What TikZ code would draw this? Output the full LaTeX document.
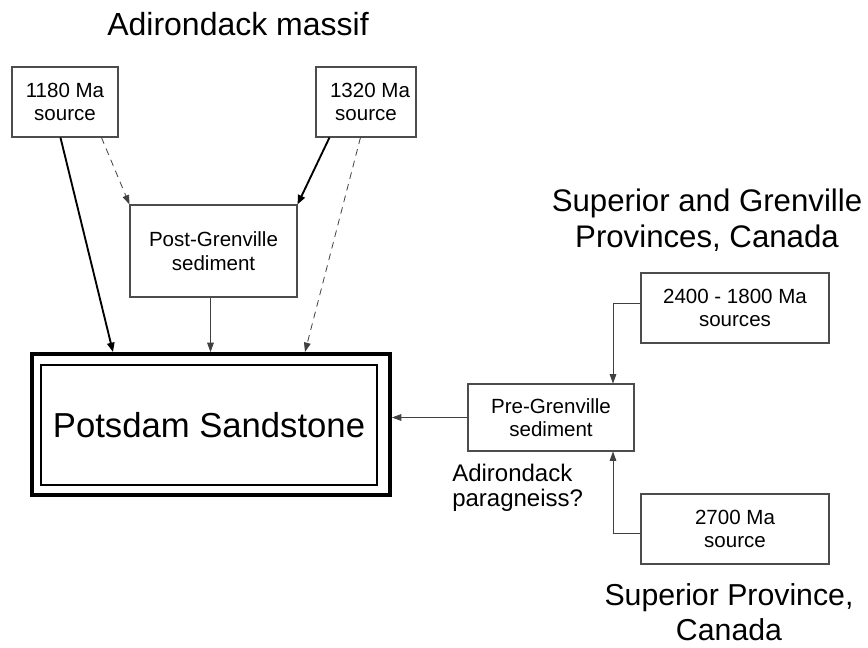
\documentclass[tikz,border=0pt]{standalone}
\usepackage{fontspec}
\setmainfont{Liberation Sans}
\usetikzlibrary{arrows.meta,calc}
\tikzset{
  srcbox/.style={draw=black!70, line width=0.8pt, inner sep=0pt, align=center,
    font=\fontsize{15.4}{17.5}\selectfont},
  bigtext/.style={align=center, inner sep=0pt, font=\fontsize{24}{27.8}\selectfont},
  thinarrow/.style={draw=black!75, line width=0.6pt, -{Triangle[length=7pt,width=5pt]}},
  thickarrow/.style={draw=black, line width=1.4pt, -{Triangle[length=7pt,width=5.5pt]}},
  dasharrow/.style={draw=black!75, line width=0.6pt, dash pattern=on 5pt off 4pt, -{Triangle[length=7pt,width=5pt]}}
}
\begin{document}
\begin{tikzpicture}[x=0.75pt,y=-0.75pt]
\useasboundingbox[fill=white] (0,0) rectangle (868,648);

\node[bigtext] (tadk) at (238,24) {Adirondack massif};
\node[bigtext, font=\fontsize{23.4}{27}\selectfont] (tsg) at (707,220) {Superior and Grenville\\Provinces, Canada};
\node[bigtext, font=\fontsize{22.7}{26}\selectfont] (tsp) at (729,612) {Superior Province,\\Canada};

\node[srcbox, minimum width=79.5pt, minimum height=52.5pt] (b1180) at (65,102) {1180 Ma\\source};
\node[srcbox, minimum width=75pt, minimum height=52.5pt] (b1320) at (366,102) {\hspace*{6pt}1320 Ma\\source};
\node[srcbox, minimum width=125.25pt, minimum height=69pt] (post) at (213.5,251) {Post-Grenville\\sediment};

\node[draw=black, line width=3pt, minimum width=268.5pt, minimum height=105.75pt] (pots) at (211,424.5) {};
\node[draw=black, line width=1.6pt, minimum width=252pt, minimum height=90pt, inner sep=0pt,
  font=\fontsize{26}{30}\selectfont] (potsin) at (209,425) {Potsdam Sandstone};

\node[srcbox, minimum width=124.5pt, minimum height=50.25pt] (pre) at (551,417.5) {Pre-Grenville\\sediment};
\node[srcbox, minimum width=141pt, minimum height=52.5pt] (b2400) at (735,308) {2400 - 1800 Ma\\sources};
\node[srcbox, minimum width=141pt, minimum height=52.5pt] (b2700) at (735,529) {2700 Ma\\source};

\node[anchor=west, align=left, inner sep=0pt, font=\fontsize{18}{19}\selectfont] (para) at (452,488) {Adirondack\\paragneiss?};

% connectors
\draw[thickarrow] ($(b1180.south west)+(49,0)$) -- ($(pots.north west)+(83,0)$);
\draw[dasharrow] ($(b1180.south west)+(90,0)$) -- (post.north west);
\draw[thickarrow] ($(b1320.south west)+(14,0)$) -- (post.north east);
\draw[dasharrow] ($(b1320.south west)+(45,0)$) -- ($(pots.north west)+(275,0)$);
\coordinate (pg) at ($(post.south)+(-3,0)$);
\draw[thinarrow] (pg) -- (pg |- pots.north);
\draw[thinarrow] (pre.west) -- (pre.west -| pots.east);
\coordinate (pn) at ($(pre.north)+(62,0)$);
\coordinate (ps) at ($(pre.south)+(62,0)$);
\draw[thinarrow] ($(b2400.west)+(0,-5)$) -| (pn);
\draw[thinarrow] ($(b2700.west)+(0,4)$) -| (ps);
\end{tikzpicture}
\end{document}
